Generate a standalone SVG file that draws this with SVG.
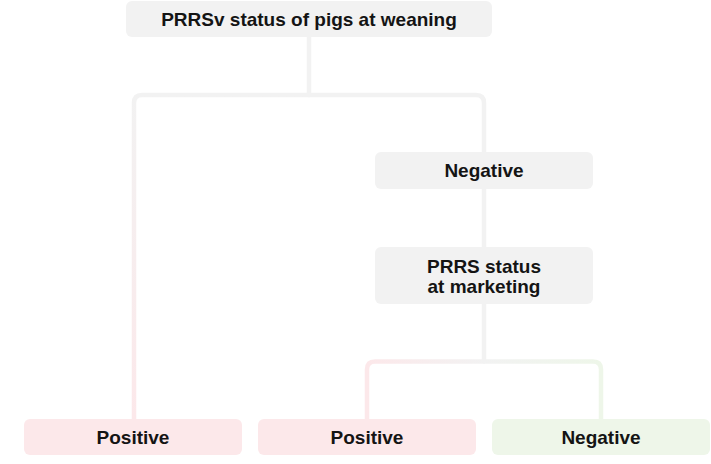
<svg xmlns="http://www.w3.org/2000/svg" width="711" height="464" viewBox="0 0 711 464">
<style>
.box{fill:#f2f2f2}
.pos{fill:#fce8ea}
.neg{fill:#eef6e9}
.lbl{font-family:"Liberation Sans",Arial,sans-serif;font-weight:bold;font-size:19px;fill:#141414;text-anchor:middle}
.conn{fill:none;stroke-width:4.5;stroke-linecap:butt}
</style>
<defs>
<linearGradient id="gLeftTop" gradientUnits="userSpaceOnUse" x1="0" y1="95" x2="0" y2="419">
<stop offset="0" stop-color="#f2f2f2"/>
<stop offset="1" stop-color="#fce8ea"/>
</linearGradient>
<linearGradient id="gLeftBot" gradientUnits="userSpaceOnUse" x1="484" y1="0" x2="367" y2="0">
<stop offset="0" stop-color="#f2f2f2"/>
<stop offset="1" stop-color="#fce8ea"/>
</linearGradient>
<linearGradient id="gRightBot" gradientUnits="userSpaceOnUse" x1="484" y1="0" x2="601" y2="0">
<stop offset="0" stop-color="#f2f2f2"/>
<stop offset="1" stop-color="#eef6e9"/>
</linearGradient>
</defs>
<g id="connectors">
<path class="conn" stroke="#f2f2f2" d="M309,37 V95"/>
<path class="conn" stroke="url(#gLeftTop)" d="M310,95 H142 Q134,95 134,103 V419"/>
<path class="conn" stroke="#f2f2f2" d="M308,95 H476 Q484,95 484,103 V152"/>
<path class="conn" stroke="#f2f2f2" d="M484,189 V247"/>
<path class="conn" stroke="#f2f2f2" d="M484,304 V361.5"/>
<path class="conn" stroke="url(#gLeftBot)" d="M485,361.5 H375 Q367,361.5 367,369.5 V419"/>
<path class="conn" stroke="url(#gRightBot)" d="M483,361.5 H593 Q601,361.5 601,369.5 V419"/>
</g>
<g id="root">
<rect class="box" x="126" y="1" width="366" height="36" rx="6"/>
<text class="lbl" x="309" y="26">PRRSv status of pigs at weaning</text>
</g>
<g id="neg1">
<rect class="box" x="375" y="152" width="218" height="37" rx="6"/>
<text class="lbl" x="484" y="177">Negative</text>
</g>
<g id="market">
<rect class="box" x="375" y="247" width="218" height="57" rx="6"/>
<text class="lbl" x="484" y="272.5">PRRS status</text>
<text class="lbl" x="484" y="292.5">at marketing</text>
</g>
<g id="pos1">
<rect class="pos" x="24" y="419" width="218" height="36" rx="6"/>
<text class="lbl" x="133" y="444">Positive</text>
</g>
<g id="pos2">
<rect class="pos" x="258" y="419" width="218" height="36" rx="6"/>
<text class="lbl" x="367" y="444">Positive</text>
</g>
<g id="neg2">
<rect class="neg" x="492" y="419" width="218" height="36" rx="6"/>
<text class="lbl" x="601" y="444">Negative</text>
</g>
</svg>
